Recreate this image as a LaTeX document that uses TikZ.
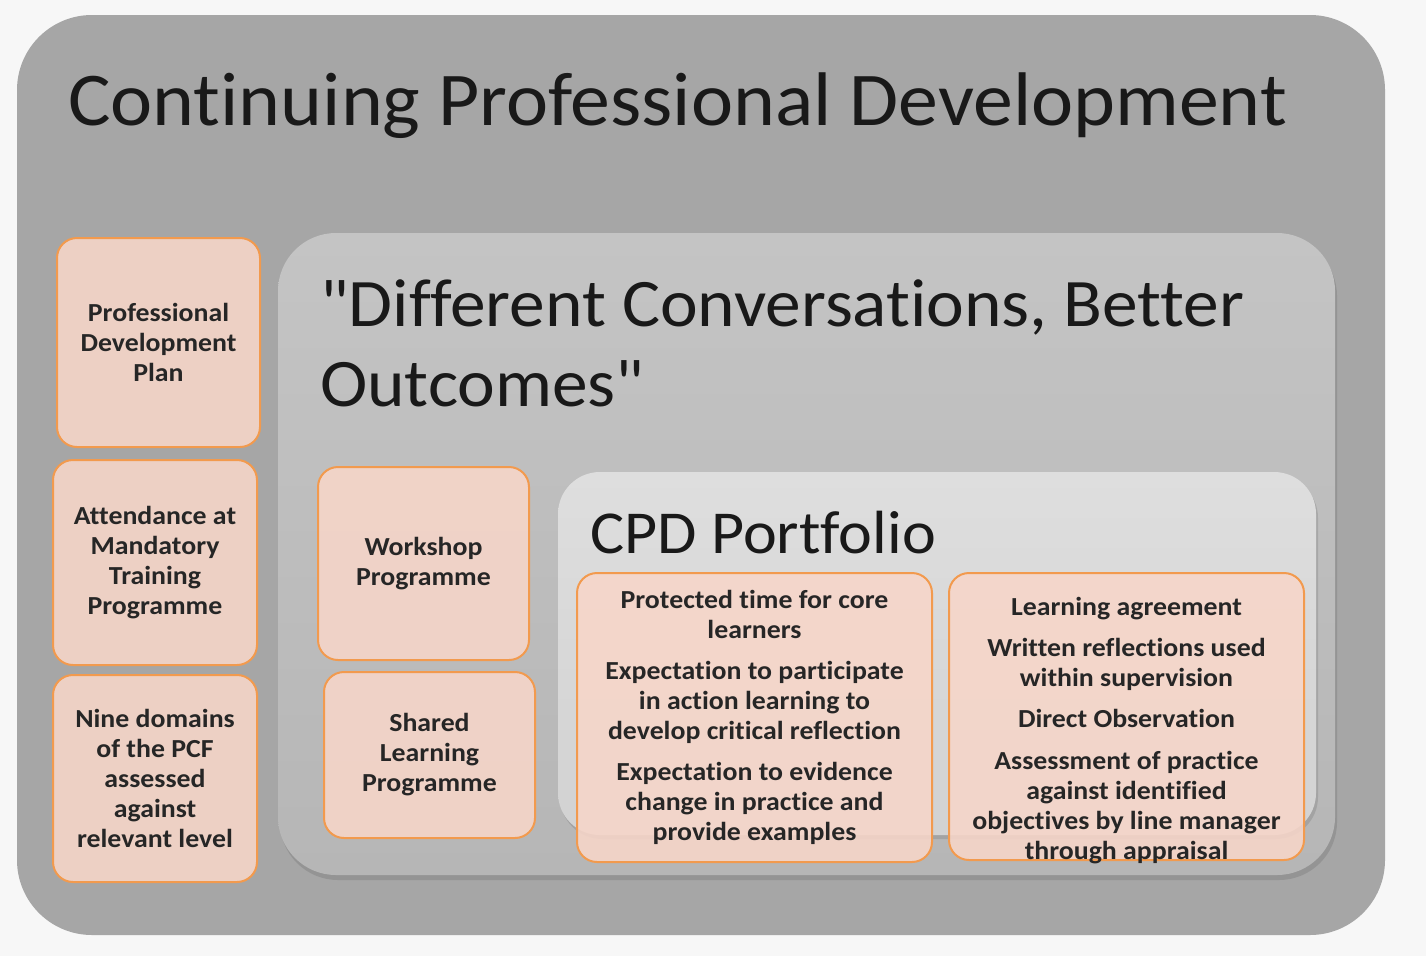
\documentclass[tikz,border=0pt]{standalone}
\usepackage{fontspec}
\setmainfont{Carlito}[Ligatures={TeXOff,CommonOff}, FakeStretch=1.05]
\newfontfamily\boxfam{Carlito}[Ligatures={TeXOff,CommonOff}, FakeStretch=1.07]
\usetikzlibrary{shadows}
\definecolor{pagebg}{HTML}{F7F7F7}
\definecolor{outergray}{HTML}{A6A6A6}
\definecolor{midtop}{HTML}{C4C4C4}
\definecolor{midbot}{HTML}{B6B6B6}
\definecolor{intop}{HTML}{DEDEDE}
\definecolor{inbot}{HTML}{D2D2D2}
\definecolor{peach}{HTML}{F7D6C9}
\definecolor{orangeline}{HTML}{F29A4E}
\newcommand{\boxfont}{\boxfam\fontsize{26}{30}\selectfont\bfseries}
\tikzset{
  panel/.style={draw=none, inner sep=0pt},
  orangebox/.style={draw=orangeline, line width=2pt, fill=peach, fill opacity=0.88, text opacity=1,
    rounded corners=20pt, align=center, font=\boxfont, inner sep=0pt, text=black!85},
  boxtext/.style={align=center, font=\boxfont, inner sep=0pt, text=black!85},
  bigtitle/.style={anchor=base west, inner sep=0pt, text=black!90}
}
\begin{document}
\begin{tikzpicture}[x=1pt,y=-1pt]
\useasboundingbox (0,0) rectangle (1426,956);
\fill[pagebg] (0,0) rectangle (1426,956);
% outer panel
\node[panel, fill=outergray, rounded corners=75pt, minimum width=1368pt, minimum height=920pt] (outer) at (701,475) {};
\node[bigtitle, font=\fontsize{76}{90}\selectfont] (title) at (68,125) {Continuing Professional Development};
% middle panel
\node[panel, top color=midtop, bottom color=midbot, rounded corners=58pt, minimum width=1057pt, minimum height=642pt,
  drop shadow={opacity=0.45, shadow xshift=2pt, shadow yshift=-5pt}] (mid) at (806.5,554) {};
\node[bigtitle, font=\fontsize{68}{80}\selectfont, align=left, anchor=north west] (dc) at (320,280)
  {"Different Conversations, Better\\Outcomes"};
% inner panel
\node[panel, top color=intop, bottom color=inbot, rounded corners=42pt, minimum width=758pt, minimum height=363pt,
  drop shadow={opacity=0.35, shadow xshift=2pt, shadow yshift=-4pt}] (cpd) at (937,653.5) {};
\node[bigtitle, font=\fontsize{61}{72}\selectfont] (cpdt) at (590,553) {CPD Portfolio};
% left column
\node[orangebox, minimum width=203pt, minimum height=209pt] (pdp) at (158.5,342.5)
  {Professional\\Development\\Plan};
\node[orangebox, minimum width=204pt, minimum height=205pt] (att) at (155,562.5)
  {Attendance at\\Mandatory\\Training\\Programme};
\node[orangebox, minimum width=204pt, minimum height=207pt] (nine) at (155,778.5)
  {Nine domains\\of the PCF\\assessed\\against\\relevant level};
% middle column
\node[orangebox, minimum width=211pt, minimum height=193pt] (work) at (423.5,563.5)
  {Workshop\\Programme};
\node[orangebox, minimum width=211pt, minimum height=166pt] (shared) at (429.5,755)
  {Shared\\Learning\\Programme};
% portfolio boxes
\node[orangebox, minimum width=355pt, minimum height=289pt] (prot) at (754.5,717.5)
  {Protected time for core\\learners\\[11pt]Expectation to participate\\in action learning to\\develop critical reflection\\[11pt]Expectation to evidence\\change in practice and\\provide examples};
\node[orangebox, minimum width=355pt, minimum height=287pt] (learn) at (1126.5,716.5) {};
\node[boxtext, anchor=north] (learnt) at (1126.5,597)
  {Learning agreement\\[11pt]Written reflections used\\within supervision\\[11pt]Direct Observation\\[12pt]Assessment of practice\\against identified\\objectives by line manager\\through appraisal};
\end{tikzpicture}
\end{document}
